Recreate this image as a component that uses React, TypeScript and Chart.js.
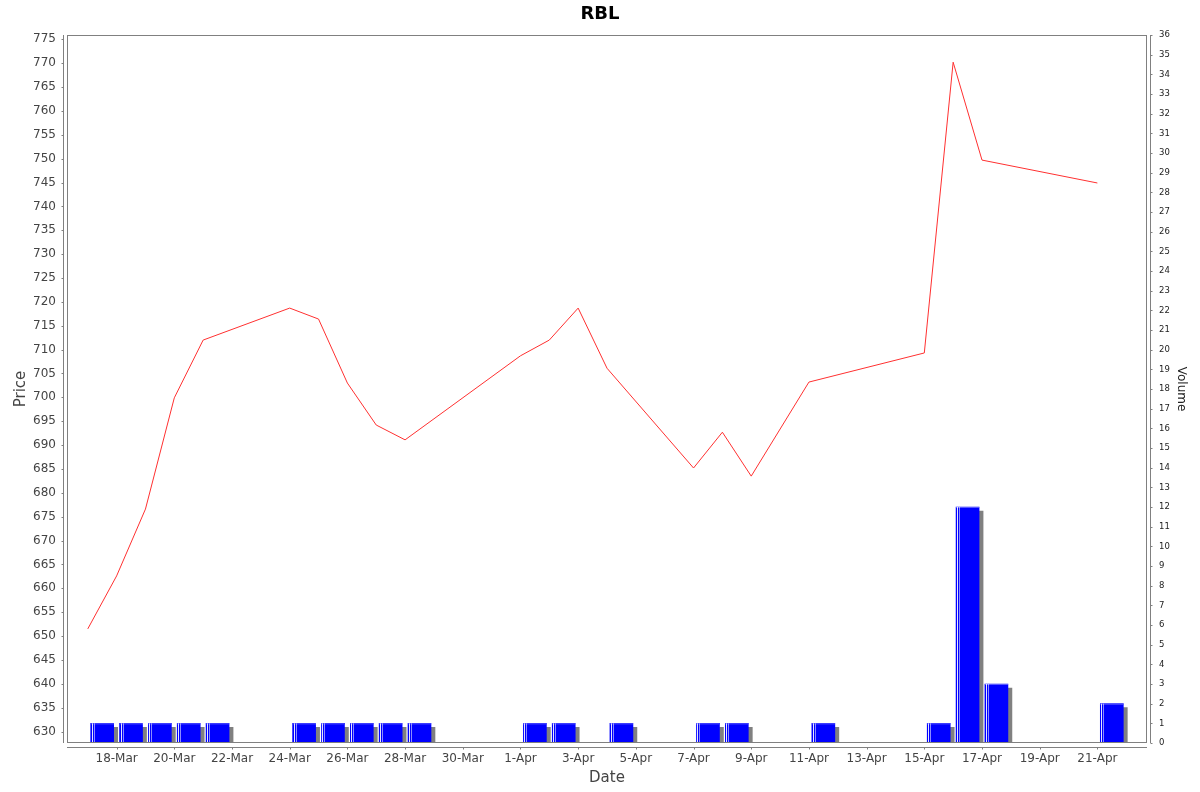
import React, { useEffect, useRef } from 'react';
import { Chart, registerables, type Plugin } from 'chart.js';

Chart.register(...registerables);

// Trading days, closing prices and volumes
const dates = [
  '2019-03-17', '2019-03-18', '2019-03-19', '2019-03-20', '2019-03-21',
  '2019-03-24', '2019-03-25', '2019-03-26', '2019-03-27', '2019-03-28',
  '2019-04-01', '2019-04-02', '2019-04-03', '2019-04-04',
  '2019-04-07', '2019-04-08', '2019-04-09', '2019-04-11',
  '2019-04-15', '2019-04-16', '2019-04-17', '2019-04-21',
];
const prices = [
  651.5, 662.6, 676.6, 699.9, 712.0,
  718.7, 716.4, 703.0, 694.2, 691.1,
  708.7, 712.0, 718.7, 706.1,
  685.2, 692.7, 683.5, 703.2,
  709.3, 770.2, 749.7, 744.9,
];
const volumes = [
  1, 1, 1, 1, 1,
  1, 1, 1, 1, 1,
  1, 1, 0, 1,
  1, 1, 0, 1,
  1, 12, 3, 2,
];

const MONTHS = ['Jan', 'Feb', 'Mar', 'Apr', 'May', 'Jun', 'Jul', 'Aug', 'Sep', 'Oct', 'Nov', 'Dec'];
const DAY_MS = 86400000;
const BASE = Date.UTC(2019, 2, 16);
const dayIndex = (iso: string) => Math.round((Date.parse(iso + 'T00:00:00Z') - BASE) / DAY_MS);
const dayLabel = (v: number) => {
  const d = new Date(BASE + v * DAY_MS);
  return `${d.getUTCDate()}-${MONTHS[d.getUTCMonth()]}`;
};

// axis ranges
const X_MARGIN = 0.72;
const X_MIN = dayIndex(dates[0]) - X_MARGIN;
const X_MAX = dayIndex(dates[dates.length - 1]) + 1 + X_MARGIN;
const PRICE_MIN = 627.6;
const PRICE_MAX = 775.9;
const VOLUME_MAX = 36;

const FONT = "'DejaVu Sans', sans-serif";
const AXIS_GRAY = '#808080';
const BAR_INDEX = 1;

// JFreeChart-like frame, offset axis lines and short outside ticks
const framePlugin: Plugin = {
  id: 'frame',
  beforeDatasetDraw(chart, args) {
    if (args.index !== BAR_INDEX) return;
    const ctx = chart.ctx;
    ctx.save();
    ctx.shadowColor = AXIS_GRAY;
    ctx.shadowOffsetX = 4;
    ctx.shadowOffsetY = 4;
    ctx.shadowBlur = 0;
  },
  afterDatasetDraw(chart, args) {
    if (args.index !== BAR_INDEX) return;
    const ctx = chart.ctx;
    ctx.restore();
    // highlight stripes on the left edge of each bar
    const meta = chart.getDatasetMeta(BAR_INDEX);
    ctx.save();
    meta.data.forEach((el: any) => {
      const { x, y, base, width } = el.getProps(['x', 'y', 'base', 'width'], true);
      if (base - y < 1) return;
      const left = Math.round(x - width / 2);
      ctx.fillStyle = 'rgba(255,255,255,0.9)';
      ctx.fillRect(left + 1, y, 1, base - y);
      ctx.fillStyle = 'rgba(255,255,255,0.55)';
      ctx.fillRect(left + 3, y, 1, base - y);
      ctx.fillStyle = 'rgba(255,255,255,0.35)';
      ctx.fillRect(left, y, width, 1);
    });
    ctx.restore();
  },
  afterDatasetsDraw(chart) {
    const { ctx, chartArea: a, scales } = chart;
    const L = Math.round(a.left), R = Math.round(a.right);
    const T = Math.round(a.top), B = Math.round(a.bottom);
    ctx.save();
    ctx.strokeStyle = AXIS_GRAY;
    ctx.lineWidth = 1;
    ctx.strokeRect(L + 0.5, T + 0.5, R - L - 1, B - T - 1);

    ctx.beginPath();
    // left axis
    const lx = L - 3.5;
    ctx.moveTo(lx, T); ctx.lineTo(lx, B);
    scales.y.ticks.forEach((t) => {
      const py = Math.round(scales.y.getPixelForValue(t.value)) + 0.5;
      ctx.moveTo(lx, py); ctx.lineTo(lx - 2, py);
    });
    // right axis
    const rx = R + 3.5;
    ctx.moveTo(rx, T); ctx.lineTo(rx, B);
    scales.y1.ticks.forEach((t) => {
      const py = Math.round(scales.y1.getPixelForValue(t.value)) + 0.5;
      ctx.moveTo(rx, py); ctx.lineTo(rx + 2, py);
    });
    // bottom axis
    const by = B + 4.5;
    ctx.moveTo(L, by); ctx.lineTo(R, by);
    scales.x.ticks.forEach((t) => {
      const px = Math.round(scales.x.getPixelForValue(t.value)) + 0.5;
      ctx.moveTo(px, by); ctx.lineTo(px, by + 2);
    });
    ctx.stroke();
    ctx.restore();
  },
};

const PriceVolumeChart: React.FC = () => {
  const canvasRef = useRef<HTMLCanvasElement>(null);

  useEffect(() => {
    document.body.style.margin = '0';
    if (!canvasRef.current) return;

    const chart = new Chart(canvasRef.current, {
      type: 'bar',
      data: {
        datasets: [
          {
            type: 'line',
            label: 'Price',
            data: dates.map((d, i) => ({ x: dayIndex(d), y: prices[i] })),
            borderColor: '#ff3030',
            borderWidth: 1,
            pointRadius: 0,
            tension: 0,
            yAxisID: 'y',
            order: 0,
          },
          {
            type: 'bar',
            label: 'Volume',
            data: dates.map((d, i) => ({ x: dayIndex(d) + 0.5, y: volumes[i] })),
            backgroundColor: '#0000ff',
            borderWidth: 0,
            barThickness: 23,
            yAxisID: 'y1',
            order: 1,
          },
        ] as any,
      },
      options: {
        responsive: false,
        devicePixelRatio: 1,
        animation: false,
        events: [],
        layout: { padding: 0 },
        plugins: {
          legend: { display: false },
          tooltip: { enabled: false },
          title: {
            display: true,
            text: 'RBL',
            color: '#000',
            font: { family: FONT, size: 18, weight: 'bold' },
            padding: { top: 4, bottom: 9.4 },
          },
        },
        scales: {
          x: {
            type: 'linear',
            min: X_MIN,
            max: X_MAX,
            offset: false,
            grid: { display: false, drawTicks: false },
            border: { display: false },
            ticks: {
              stepSize: 2,
              includeBounds: false,
              autoSkip: false,
              maxRotation: 0,
              padding: 9,
              color: '#444',
              font: { family: FONT, size: 12 },
              callback: (v) => dayLabel(Number(v)),
            },
            title: {
              display: true,
              text: 'Date',
              color: '#444',
              font: { family: FONT, size: 15 },
              padding: { top: 0, bottom: 5 },
            },
            afterFit: (s) => { s.height = 49; },
          },
          y: {
            type: 'linear',
            position: 'left',
            min: PRICE_MIN,
            max: PRICE_MAX,
            grid: { display: false, drawTicks: false },
            border: { display: false },
            ticks: {
              stepSize: 5,
              includeBounds: false,
              maxTicksLimit: 40,
              padding: 11,
              color: '#444',
              font: { family: FONT, size: 12 },
            },
            title: {
              display: true,
              text: 'Price',
              color: '#444',
              font: { family: FONT, size: 15 },
              padding: { top: 12, bottom: 0 },
            },
            afterFit: (s) => { s.width = 67; },
          },
          y1: {
            type: 'linear',
            position: 'right',
            min: 0,
            max: VOLUME_MAX,
            grid: { display: false, drawTicks: false },
            border: { display: false },
            ticks: {
              stepSize: 1,
              maxTicksLimit: 37,
              padding: 12,
              color: '#222',
              font: { family: FONT, size: 8.5 },
            },
            title: {
              display: true,
              text: 'Volume',
              color: '#222',
              font: { family: FONT, size: 12 },
              padding: { top: 12, bottom: 0 },
            },
            afterFit: (s) => { s.width = 53; },
          },
        },
      },
      plugins: [framePlugin],
    });

    return () => chart.destroy();
  }, []);

  return (
    <div style={{ width: 1200, height: 792, background: '#fff' }}>
      <canvas ref={canvasRef} width={1200} height={792} />
    </div>
  );
};

export default function App() {
  return <PriceVolumeChart />;
}
